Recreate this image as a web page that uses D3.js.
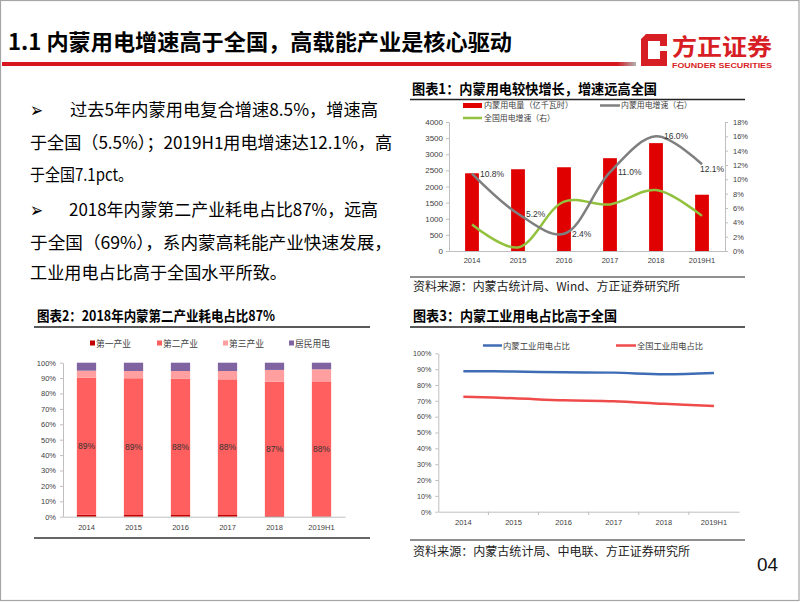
<!DOCTYPE html>
<html><head><meta charset="utf-8">
<script src="https://cdn.jsdelivr.net/npm/d3@7/dist/d3.min.js"></script>
<style>body{margin:0;background:#fff}svg{display:block}</style>
</head><body><svg id="s" width="802" height="602"></svg>
<script>
// ---------- data ----------
const years = ["2014","2015","2016","2017","2018","2019H1"];
// chart 1
const nmElec = [2410, 2535, 2597, 2878, 3345, 1745];          // 亿千瓦时
const nmGrowth = [10.8, 5.2, 2.4, 11.0, 16.0, 12.1];          // %
const cnGrowth = [3.7, 0.5, 6.9, 6.5, 8.5, 4.9];              // %
const c1LeftTicks = [0,500,1000,1500,2000,2500,3000,3500,4000];
const c1RightTicks = [0,2,4,6,8,10,12,14,16,18];
// chart 2
const c2Keys = ["第一产业","第二产业","第三产业","居民用电"];
const primaryInd = [1.2, 1.1, 1.1, 1.1, 0.4, 0.3];
const secondaryInd = [89.1, 88.8, 88.4, 88.1, 87.3, 87.6];
const tertiaryInd = [4.5, 4.7, 5.1, 5.4, 7.6, 7.8];
const residential = [5.2, 5.4, 5.4, 5.4, 4.7, 4.3];
const c2Ticks = [0,10,20,30,40,50,60,70,80,90,100];
// chart 3
const nmIndShare = [88.7, 88.5, 88.0, 87.8, 86.8, 87.6];
const cnIndShare = [72.6, 71.6, 70.3, 69.7, 68.1, 66.8];
const c3Ticks = [0,10,20,30,40,50,60,70,80,90,100];

// ---------- helpers ----------
const svg = d3.select("#s");
const CJK = "'Noto Sans CJK SC', sans-serif";
const LAT = "'Liberation Sans', Arial, sans-serif";
function T(x, y, s, size, o = {}) {
  const t = svg.append("text").attr("x", x).attr("y", y).text(s)
    .attr("font-size", size).attr("font-family", o.ff || CJK)
    .attr("fill", o.fill || "#000");
  if (o.w) t.attr("textLength", o.w).attr("lengthAdjust", "spacingAndGlyphs");
  if (o.bold) t.attr("font-weight", "bold");
  if (o.anchor) t.attr("text-anchor", o.anchor);
  return t;
}
function L(x1, y1, x2, y2, c, w) {
  svg.append("line").attr("x1", x1).attr("y1", y1).attr("x2", x2).attr("y2", y2)
    .attr("stroke", c).attr("stroke-width", w);
}

// ---------- slide frame / header ----------
svg.append("rect").attr("x", 0.5).attr("y", 0.5).attr("width", 798.5).attr("height", 600)
  .attr("fill", "#fff").attr("stroke", "#a6a6a6").attr("stroke-width", 1.2);
T(8, 50, "1.1 内蒙用电增速高于全国，高载能产业是核心驱动", 22, {bold: true, w: 504});
const grad = svg.append("defs").append("linearGradient").attr("id", "rl");
grad.append("stop").attr("offset", "0%").attr("stop-color", "#d7161d");
grad.append("stop").attr("offset", "97%").attr("stop-color", "#d7161d");
grad.append("stop").attr("offset", "100%").attr("stop-color", "#b0b0b0");
svg.append("rect").attr("x", 2).attr("y", 62).attr("width", 634).attr("height", 4).attr("fill", "url(#rl)");
// logo
svg.append("path").attr("d", "M646,34 L667,34 L667,66 L641,66 L641,39 Z M648,41 L648,59 L660,59 L660,41 Z")
  .attr("fill", "#d81e25").attr("fill-rule", "evenodd");
svg.append("rect").attr("x", 659).attr("y", 46).attr("width", 9).attr("height", 5).attr("fill", "#fff");
T(672, 55, "方正证券", 23, {bold: true, fill: "#d81e25", w: 100});
T(672, 68, "FOUNDER SECURITIES", 7, {bold: true, fill: "#d81e25", ff: LAT, w: 100});

// ---------- body text ----------
const bodyFs = 17;
T(30, 117, "➢", 20, {ff: "'DejaVu Sans', sans-serif", w: 13});
T(70, 116, "过去5年内蒙用电复合增速8.5%，增速高", bodyFs, {w: 308});
T(30, 148.5, "于全国（5.5%）；2019H1用电增速达12.1%，高", bodyFs, {w: 362});
T(30, 180.5, "于全国7.1pct。", bodyFs, {w: 103});
T(30, 217, "➢", 20, {ff: "'DejaVu Sans', sans-serif", w: 13});
T(69, 216, "2018年内蒙第二产业耗电占比87%，远高", bodyFs, {w: 309});
T(30, 249, "于全国（69%），系内蒙高耗能产业快速发展，", bodyFs, {w: 362});
T(30, 278.5, "工业用电占比高于全国水平所致。", bodyFs, {w: 257});

// ---------- chart 1 ----------
T(412, 94, "图表1：内蒙用电较快增长，增速远高全国", 14, {bold: true, w: 245});
L(410, 99.5, 745, 99.5, "#222", 1.5);
// legend
svg.append("rect").attr("x", 463).attr("y", 103).attr("width", 19).attr("height", 5).attr("fill", "#e00000");
T(484, 108, "内蒙用电量（亿千瓦时）", 8, {fill: "#404040", w: 89});
L(600, 105.5, 620, 105.5, "#7f7f7f", 2.5);
T(621, 108, "内蒙用电增速（右）", 8, {fill: "#404040", w: 71});
L(463, 118, 482, 118, "#92c13e", 2.5);
T(484, 121, "全国用电增速（右）", 8, {fill: "#404040", w: 71});

const x1 = d3.scaleBand().domain(years).range([449, 725]).paddingInner(0.7).paddingOuter(0.35);
const y1L = d3.scaleLinear().domain([0, 4000]).range([251, 122]);
const y1R = d3.scaleLinear().domain([0, 18]).range([251, 122]);
const cx1 = d => x1(d) + x1.bandwidth() / 2;

function styleAxis(g, fs) {
  g.selectAll("path").attr("stroke", "#bfbfbf");
  g.selectAll("line").attr("stroke", "#bfbfbf");
  g.selectAll("text").attr("font-family", LAT).attr("font-size", fs).attr("fill", "#404040");
}
svg.append("g").attr("transform", "translate(449,0)")
  .call(d3.axisLeft(y1L).tickValues(c1LeftTicks).tickSize(3).tickSizeOuter(0).tickPadding(3).tickFormat(d3.format("d")))
  .call(g => styleAxis(g, 8));
svg.append("g").attr("transform", "translate(725,0)")
  .call(d3.axisRight(y1R).tickValues(c1RightTicks).tickSize(3).tickSizeOuter(0).tickPadding(5).tickFormat(d => d + "%"))
  .call(g => styleAxis(g, 7.5));
// bars
svg.append("g").selectAll("rect").data(years).join("rect")
  .attr("x", d => x1(d)).attr("width", x1.bandwidth())
  .attr("y", (d, i) => y1L(nmElec[i])).attr("height", (d, i) => y1L(0) - y1L(nmElec[i]))
  .attr("fill", "#e00000");
svg.append("g").attr("transform", "translate(0,251)")
  .call(d3.axisBottom(x1).tickSize(0).tickPadding(7).tickSizeOuter(0))
  .call(g => styleAxis(g, 7.5));
// lines
const lineR = arr => d3.line().x((d, i) => cx1(years[i])).y(d => y1R(d)).curve(d3.curveCatmullRom.alpha(0.5))(arr);
svg.append("path").attr("d", lineR(cnGrowth)).attr("fill", "none").attr("stroke", "#92c13e").attr("stroke-width", 2.5);
svg.append("path").attr("d", lineR(nmGrowth)).attr("fill", "none").attr("stroke", "#7f7f7f").attr("stroke-width", 2.5);
svg.append("g").selectAll("text").data(nmGrowth).join("text")
  .attr("x", (d, i) => cx1(years[i]) + (i === nmGrowth.length - 1 ? -2 : 8))
  .attr("y", (d, i) => y1R(d) + (i === nmGrowth.length - 1 ? 8 : 3))
  .text(d => d.toFixed(1) + "%")
  .attr("font-family", LAT).attr("font-size", 8.5).attr("fill", "#333");
// source
L(410, 277, 745, 277, "#222", 1.2);
T(413, 291, "资料来源：内蒙古统计局、Wind、方正证券研究所", 12, {fill: "#222", w: 267});

// ---------- chart 2 ----------
T(37, 321, "图表2：2018年内蒙第二产业耗电占比87%", 14, {bold: true, w: 238});
L(34, 327, 370, 327, "#222", 1.5);
const c2Colors = ["#c00000", "#ff5f5f", "#ff9f9f", "#8064a2"];
const legX2 = [90, 157, 223, 289];
c2Keys.forEach((k, i) => {
  svg.append("rect").attr("x", legX2[i]).attr("y", 340.5).attr("width", 5).attr("height", 5).attr("fill", c2Colors[i]);
  T(legX2[i] + 6, 346.5, k, 9, {fill: "#404040", w: 35});
});
const x2 = d3.scaleBand().domain(years).range([63, 345]).paddingInner(0.59).paddingOuter(0.295);
const y2 = d3.scaleLinear().domain([0, 100]).range([516.7, 362.7]);
const c2Rows = years.map((y, i) => ({year: y, "第一产业": primaryInd[i], "第二产业": secondaryInd[i], "第三产业": tertiaryInd[i], "居民用电": residential[i]}));
const stack2 = d3.stack().keys(c2Keys)(c2Rows);
svg.append("g").selectAll("g").data(stack2).join("g").attr("fill", (d, i) => c2Colors[i])
  .selectAll("rect").data(d => d).join("rect")
  .attr("x", d => x2(d.data.year)).attr("width", x2.bandwidth())
  .attr("y", d => y2(d[1])).attr("height", d => y2(d[0]) - y2(d[1]));
svg.append("g").attr("transform", "translate(63,0)")
  .call(d3.axisLeft(y2).tickValues(c2Ticks).tickSize(3).tickSizeOuter(0).tickPadding(4).tickFormat(d => d + "%"))
  .call(g => styleAxis(g, 7.5));
svg.append("g").attr("transform", "translate(0,516.7)")
  .call(d3.axisBottom(x2).tickSize(0).tickPadding(8).tickSizeOuter(0))
  .call(g => styleAxis(g, 7.5));
const sec = stack2[1];
svg.append("g").selectAll("text").data(sec).join("text")
  .attr("x", d => x2(d.data.year) + x2.bandwidth() / 2)
  .attr("y", d => (y2(d[0]) + y2(d[1])) / 2 + 3)
  .attr("text-anchor", "middle")
  .text(d => Math.round(d[1] - d[0]) + "%")
  .attr("font-family", LAT).attr("font-size", 8.5).attr("fill", "#333");
L(34, 538, 370, 538, "#333", 1.5);

// ---------- chart 3 ----------
T(413, 321, "图表3：内蒙工业用电占比高于全国", 14, {bold: true, w: 204});
L(410, 327, 745, 327, "#222", 1.5);
L(483, 345.5, 502, 345.5, "#3f6db5", 2.5);
T(503, 349, "内蒙工业用电占比", 8.5, {fill: "#404040", w: 67});
L(616, 345.5, 636, 345.5, "#f04b4b", 2.5);
T(637, 349, "全国工业用电占比", 8.5, {fill: "#404040", w: 66});
const x3 = d3.scaleBand().domain(years).range([438.3, 739]);
const cx3 = d => x3(d) + x3.bandwidth() / 2;
const y3 = d3.scaleLinear().domain([0, 100]).range([511.7, 353.3]);
svg.append("g").attr("transform", "translate(438.3,0)")
  .call(d3.axisLeft(y3).tickValues(c3Ticks).tickSize(3).tickSizeOuter(0).tickPadding(4).tickFormat(d => d + "%"))
  .call(g => styleAxis(g, 7.2));
svg.append("g").attr("transform", "translate(0,511.7)")
  .call(d3.axisBottom(x3).tickSize(0).tickPadding(8).tickSizeOuter(0))
  .call(g => styleAxis(g, 7.5));
svg.append("g").selectAll("line").data(years.slice(1)).join("line")
  .attr("x1", d => x3(d)).attr("x2", d => x3(d)).attr("y1", 511.7).attr("y2", 515)
  .attr("stroke", "#bfbfbf");
const line3 = arr => d3.line().x((d, i) => cx3(years[i])).y(d => y3(d)).curve(d3.curveCatmullRom.alpha(0.5))(arr);
svg.append("path").attr("d", line3(nmIndShare)).attr("fill", "none").attr("stroke", "#3f6db5").attr("stroke-width", 2.5);
svg.append("path").attr("d", line3(cnIndShare)).attr("fill", "none").attr("stroke", "#f04b4b").attr("stroke-width", 2.5);
L(410, 540, 745, 540, "#222", 1.2);
T(413, 556, "资料来源：内蒙古统计局、中电联、方正证券研究所", 12, {fill: "#222", w: 277});

// page number
T(757, 571, "04", 19, {ff: LAT, fill: "#111", w: 21});
</script></body></html>
